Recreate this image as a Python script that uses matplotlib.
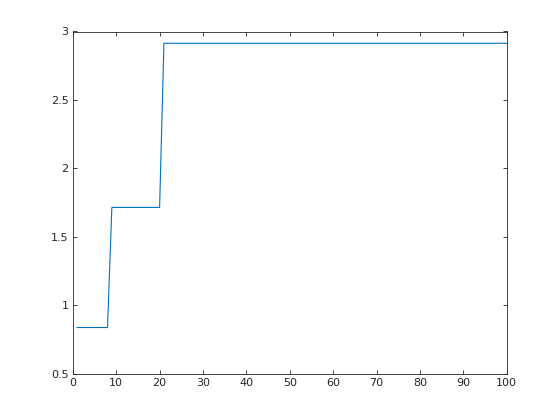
import matplotlib
matplotlib.use("Agg")
import matplotlib.pyplot as plt

# step data: level values and where each level starts/ends
x_pts = [1, 8, 9, 20, 21, 100]
y_pts = [0.838, 0.838, 1.715, 1.715, 2.914, 2.914]

xticks = [0, 10, 20, 30, 40, 50, 60, 70, 80, 90, 100]
yticks = [0.5, 1, 1.5, 2, 2.5, 3]
ytick_labels = ["0.5", "1", "1.5", "2", "2.5", "3"]

fig = plt.figure(figsize=(5.6, 4.2), dpi=100)
ax = fig.add_axes([0.13, 0.11, 0.775, 0.815])
ax.plot(x_pts, y_pts, color="#0072BD", linewidth=0.8)
ax.set_xlim(0, 100)
ax.set_ylim(0.5, 3)
ax.set_xticks(xticks)
ax.set_xticklabels([str(t) for t in xticks])
ax.set_yticks(yticks)
ax.set_yticklabels(ytick_labels)
dark = "#262626"
for s in ax.spines.values():
    s.set_color(dark)
    s.set_linewidth(0.6)
ax.tick_params(direction="in", length=3.2, width=0.6, color=dark, labelcolor=dark,
               labelsize=8, top=True, right=True, pad=3)
fig.savefig("out.png", dpi=100)
